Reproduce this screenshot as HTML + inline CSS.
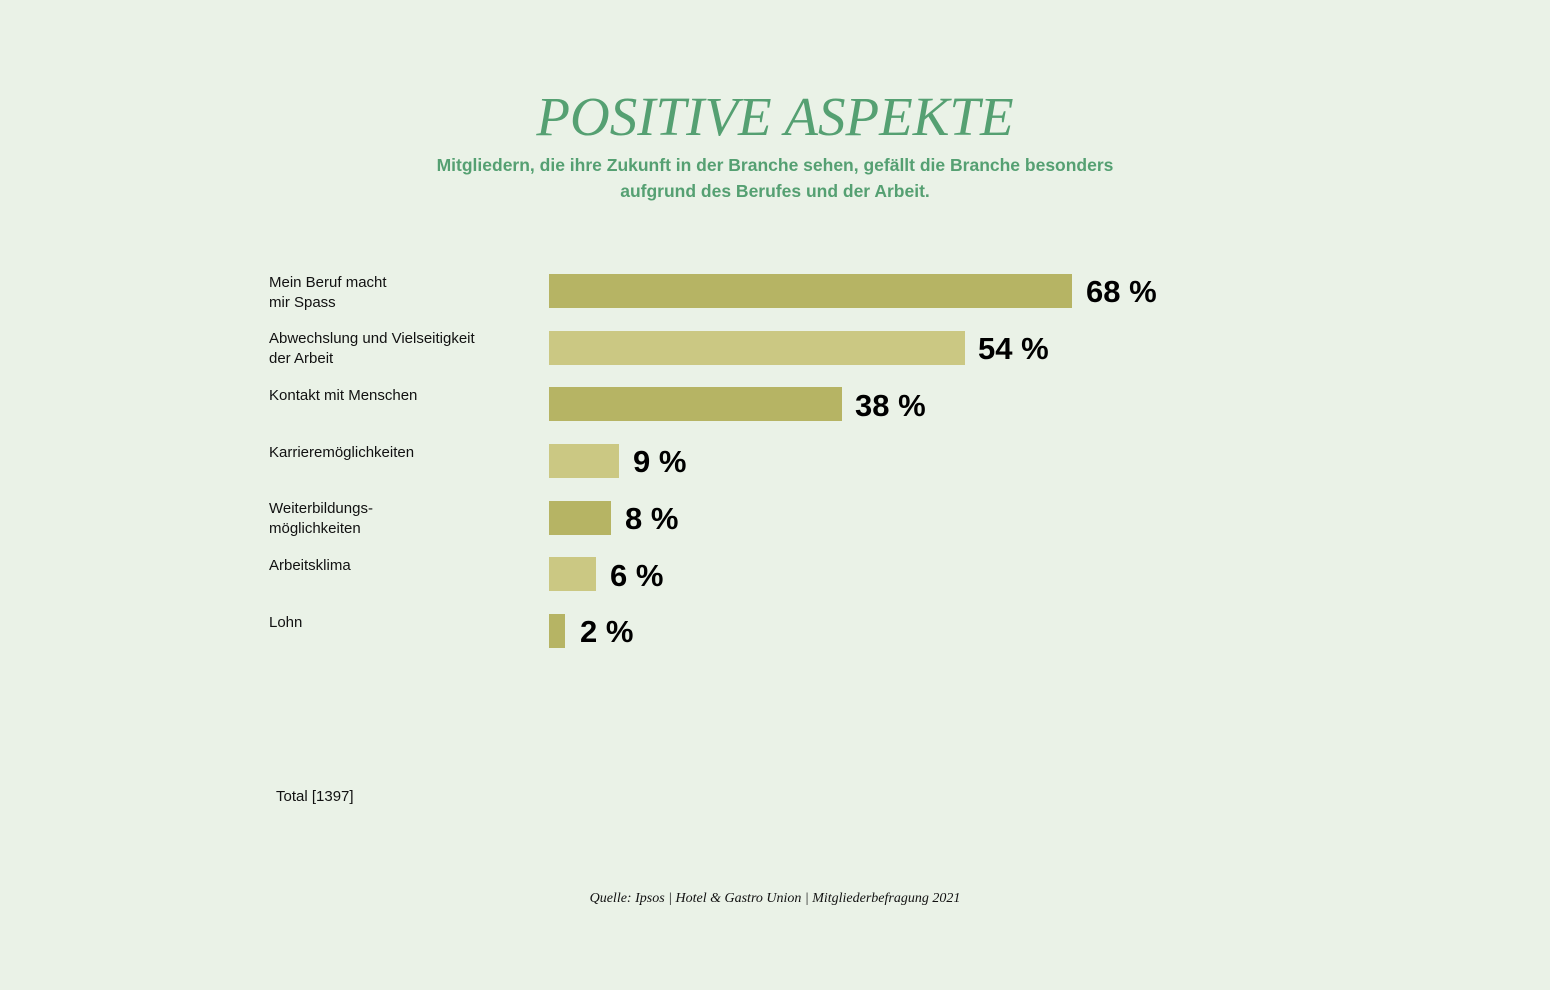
<!DOCTYPE html>
<html><head><meta charset="utf-8"><style>
body{margin:0;width:1550px;height:990px;background:#eaf2e7;position:relative;overflow:hidden;font-family:"Liberation Sans",sans-serif}
.a{position:absolute;white-space:nowrap}
.t{left:0;width:1550px;text-align:center;top:85px;font-family:"Liberation Serif",serif;font-style:italic;font-size:55px;color:#55a072;letter-spacing:0px}
.s{left:0;width:1550px;text-align:center;top:152px;font-size:17.5px;line-height:26px;color:#55a072;font-weight:bold}
.l{left:269px;font-size:15px;line-height:20px;color:#111}
.b{left:549px;height:34px}
.d{background:#b6b464}.c{background:#cbc883}
.v{font-size:31px;font-weight:bold;color:#000;line-height:34px}
</style></head><body>
<div class="a t">POSITIVE ASPEKTE</div>
<div class="a s">Mitgliedern, die ihre Zukunft in der Branche sehen, gefällt die Branche besonders<br>aufgrund des Berufes und der Arbeit.</div>

<div class="a l" style="top:273px">Mein Beruf macht<br>mir Spass</div>
<div class="a l" style="top:329px">Abwechslung und Vielseitigkeit<br>der Arbeit</div>
<div class="a l" style="top:386px">Kontakt mit Menschen</div>
<div class="a l" style="top:443px">Karrieremöglichkeiten</div>
<div class="a l" style="top:499px">Weiterbildungs-<br>möglichkeiten</div>
<div class="a l" style="top:556px">Arbeitsklima</div>
<div class="a l" style="top:613px">Lohn</div>

<div class="a b d" style="top:274px;width:523px"></div>
<div class="a b c" style="top:331px;width:416px"></div>
<div class="a b d" style="top:387px;width:293px"></div>
<div class="a b c" style="top:444px;width:70px"></div>
<div class="a b d" style="top:501px;width:62px"></div>
<div class="a b c" style="top:557px;width:47px"></div>
<div class="a b d" style="top:614px;width:16px"></div>

<div class="a v" style="left:1086px;top:275px">68 %</div>
<div class="a v" style="left:978px;top:332px">54 %</div>
<div class="a v" style="left:855px;top:389px">38 %</div>
<div class="a v" style="left:633px;top:445px">9 %</div>
<div class="a v" style="left:625px;top:502px">8 %</div>
<div class="a v" style="left:610px;top:559px">6 %</div>
<div class="a v" style="left:580px;top:615px">2 %</div>

<div class="a l" style="left:276px;top:787px;font-size:15px">Total [1397]</div>
<div class="a" style="left:0;width:1550px;text-align:center;top:891px;font-family:'Liberation Serif',serif;font-style:italic;font-size:14px;color:#111">Quelle: Ipsos | Hotel &amp; Gastro Union | Mitgliederbefragung 2021</div>
</body></html>
